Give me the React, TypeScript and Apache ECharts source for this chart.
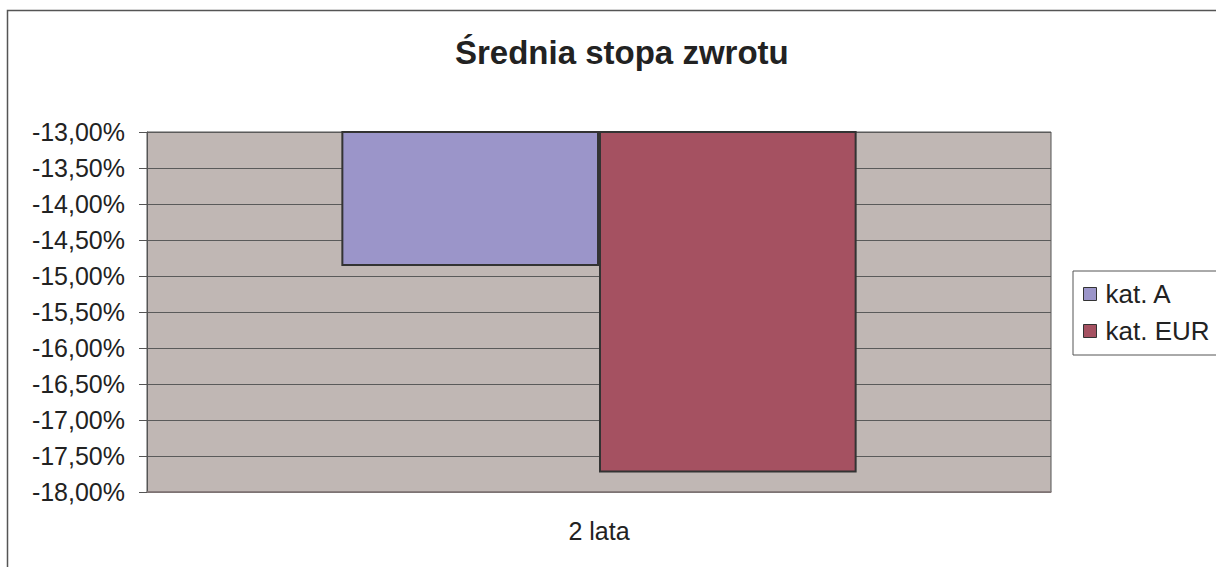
import React, { useEffect, useRef } from "react";
import * as echarts from "echarts";

const categories = ["2 lata"];
const seriesNames = ["kat. A", "kat. EUR"];
const valuesA = [-14.86];
const valuesEUR = [-17.73];
const colors = ["#9b95c9", "#a55161"];
const yMin = -18;
const yMax = -13;
const yStep = 0.5;

export default function App() {
  const ref = useRef<HTMLDivElement>(null);
  useEffect(() => {
    const chart = echarts.init(ref.current!, null, { renderer: "svg" });
    const font = "'Liberation Sans', Arial, sans-serif";
    chart.setOption({
      animation: false,
      backgroundColor: "#ffffff",
      textStyle: { fontFamily: font },
      title: {
        text: "Średnia stopa zwrotu",
        left: 455,
        top: 36,
        padding: 0,
        textStyle: { fontSize: 33, fontWeight: "bold", color: "#222", fontFamily: font },
      },
      graphic: [
        {
          type: "rect",
          shape: { x: 7.5, y: 10.5, width: 1400, height: 700 },
          style: { fill: "none", stroke: "#555", lineWidth: 1.5 },
          silent: true,
          z: 100,
        },
      ],
      legend: {
        orient: "vertical",
        left: 1073,
        top: 271,
        padding: [10, 60, 11, 10],
        itemGap: 11,
        itemWidth: 13,
        itemHeight: 13,
        icon: "rect",
        borderColor: "#555",
        borderWidth: 1,
        backgroundColor: "#fff",
        itemStyle: { borderColor: "#333", borderWidth: 1 },
        textStyle: { fontSize: 26, color: "#222", fontFamily: font, padding: [0, 0, 0, 4] },
        data: seriesNames,
      },
      grid: {
        left: 147,
        top: 132,
        width: 904,
        height: 360,
        show: true,
        backgroundColor: "#c0b7b4",
        borderColor: "#555",
        borderWidth: 1,
      },
      xAxis: {
        type: "category",
        data: categories,
        axisLine: { show: true, lineStyle: { color: "#8a7e7e", width: 1.5 } },
        axisTick: { show: false },
        axisLabel: { fontSize: 25, color: "#222", margin: 26, fontFamily: font },
      },
      yAxis: {
        type: "value",
        min: yMin,
        max: yMax,
        interval: yStep,
        axisLine: { show: true, lineStyle: { color: "#555" } },
        axisTick: { show: true, length: 8, lineStyle: { color: "#555" } },
        splitLine: { show: true, lineStyle: { color: "#5a5a5a", width: 1 } },
        axisLabel: {
          fontSize: 25,
          color: "#222",
          margin: 22,
          fontFamily: font,
          formatter: (v: number) => v.toFixed(2).replace(".", ",") + "%",
        },
      },
      series: [
        {
          name: seriesNames[0],
          type: "bar",
          data: valuesA,
          barGap: "0%",
          barCategoryGap: "43%",
          itemStyle: { color: colors[0], borderColor: "#333", borderWidth: 2 },
        },
        {
          name: seriesNames[1],
          type: "bar",
          data: valuesEUR,
          barGap: "0%",
          barCategoryGap: "43%",
          itemStyle: { color: colors[1], borderColor: "#333", borderWidth: 2 },
        },
      ],
    });
    return () => chart.dispose();
  }, []);
  return (
    <div
      ref={ref}
      style={{ position: "fixed", left: 0, top: 0, width: 1216, height: 567 }}
    />
  );
}
